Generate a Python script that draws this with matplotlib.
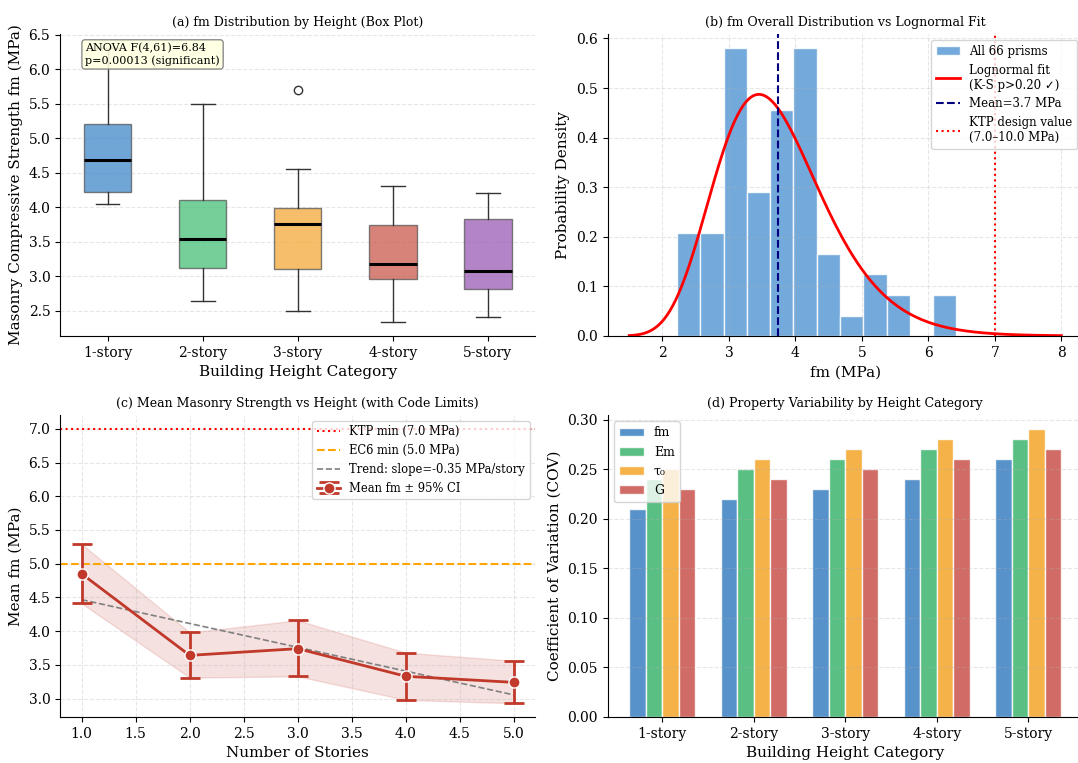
import numpy as np
import matplotlib
matplotlib.use("Agg")
import matplotlib.pyplot as plt

plt.rcParams['font.family'] = ['DejaVu Serif', 'DejaVu Sans']
plt.rcParams['axes.spines.top'] = False
plt.rcParams['axes.spines.right'] = False

# --- data ---
categories = ['1-story', '2-story', '3-story', '4-story', '5-story']

# (a) box plot stats per height category
box_med = [4.68, 3.54, 3.76, 3.18, 3.08]
box_q1 = [4.22, 3.11, 3.10, 2.95, 2.81]
box_q3 = [5.20, 4.10, 3.98, 3.74, 3.82]
box_lo = [4.05, 2.64, 2.49, 2.33, 2.41]
box_hi = [6.31, 5.50, 4.55, 4.30, 4.20]
box_fliers = [[], [], [5.70], [], []]
box_colors = ['#3f88c9', '#45bf76', '#f4a938', '#cb5a4d', '#9b5bb6']

# (b) histogram of all prisms (density) and lognormal fit
hist_edges = [2.22, 2.57, 2.92, 3.27, 3.62, 3.97, 4.32, 4.67, 5.02, 5.37, 5.72, 6.07, 6.42]
hist_density = [0.207, 0.207, 0.580, 0.290, 0.456, 0.580, 0.166, 0.041, 0.124, 0.083, 0.0, 0.083]
logn_mu = 1.292
logn_sigma = 0.231
fm_mean = 3.74

# (c) mean fm per story with 95% CI
stories = [1, 2, 3, 4, 5]
mean_fm = [4.85, 3.64, 3.74, 3.33, 3.24]
ci_low = [4.41, 3.31, 3.33, 2.98, 2.93]
ci_high = [5.29, 3.98, 4.16, 3.68, 3.56]

# (d) coefficient of variation by property
cov_fm = [0.21, 0.22, 0.23, 0.24, 0.26]
cov_em = [0.24, 0.25, 0.26, 0.27, 0.28]
cov_tau = [0.25, 0.26, 0.27, 0.28, 0.29]
cov_g = [0.23, 0.24, 0.25, 0.26, 0.27]

fig, axes = plt.subplots(2, 2, figsize=(10.78, 7.63), dpi=100)
fig.subplots_adjust(left=0.0557, right=1.0046, top=0.9554, bottom=0.0603,
                    wspace=0.152, hspace=0.262)
title_fs = 9
label_fs = 11

# (a) box plot
ax = axes[0, 0]
stats = []
for i in range(len(categories)):
    stats.append(dict(med=box_med[i], q1=box_q1[i], q3=box_q3[i],
                      whislo=box_lo[i], whishi=box_hi[i], fliers=box_fliers[i]))
bp = ax.bxp(stats, patch_artist=True, widths=0.5,
            medianprops=dict(color='black', linewidth=2.2),
            whiskerprops=dict(color='#333333'), capprops=dict(color='#333333'),
            boxprops=dict(edgecolor='#555555'),
            flierprops=dict(marker='o', markerfacecolor='none', markeredgecolor='#333333'))
for patch, c in zip(bp['boxes'], box_colors):
    patch.set_facecolor(c)
    patch.set_alpha(0.75)
ax.set_xticks(range(1, 6))
ax.set_xticklabels(categories)
ax.set_title('(a) fm Distribution by Height (Box Plot)', fontsize=title_fs)
ax.set_xlabel('Building Height Category', fontsize=label_fs)
ax.set_ylabel('Masonry Compressive Strength fm (MPa)', fontsize=label_fs)
ax.grid(axis='y', linestyle='--', alpha=0.3)
ax.text(0.053, 0.97, 'ANOVA F(4,61)=6.84\np=0.00013 (significant)', transform=ax.transAxes,
        fontsize=8, va='top', ha='left',
        bbox=dict(boxstyle='round,pad=0.3', facecolor='lightyellow', edgecolor='gray', alpha=0.9))

# (b) histogram vs lognormal fit
ax = axes[0, 1]
ax.hist(hist_edges[:-1], bins=hist_edges, weights=hist_density, color='#5B9BD5', alpha=0.85,
        edgecolor='white', linewidth=1, label='All 66 prisms')
xs = np.linspace(1.5, 8, 300)
pdf = np.exp(-(np.log(xs) - logn_mu) ** 2 / (2 * logn_sigma ** 2)) / (xs * logn_sigma * np.sqrt(2 * np.pi))
ax.plot(xs, pdf, color='red', linewidth=2, label='Lognormal fit\n(K-S p>0.20 \u2713)')
ax.axvline(fm_mean, color='navy', linestyle='--', linewidth=1.5, label=f'Mean={fm_mean:.1f} MPa')
ax.axvline(7.0, color='red', linestyle=':', linewidth=1.5, label='KTP design value\n(7.0\u201310.0 MPa)')
ax.set_title('(b) fm Overall Distribution vs Lognormal Fit', fontsize=title_fs)
ax.set_xlabel('fm (MPa)', fontsize=label_fs)
ax.set_ylabel('Probability Density', fontsize=label_fs)
ax.legend(fontsize=8.5, loc='upper right')
ax.grid(linestyle='--', alpha=0.3)

# (c) mean strength vs height
ax = axes[1, 0]
ax.axhline(7.0, color='red', linestyle=':', linewidth=1.5, label='KTP min (7.0 MPa)')
ax.axhline(5.0, color='orange', linestyle='--', linewidth=1.5, label='EC6 min (5.0 MPa)')
slope, intercept = np.polyfit(stories, mean_fm, 1)
xs_tr = np.array(stories, dtype=float)
ax.plot(xs_tr, slope * xs_tr + intercept, color='gray', linestyle='--', linewidth=1.2,
        label=f'Trend: slope={slope:.2f} MPa/story')
ax.fill_between(stories, ci_low, ci_high, color='#c0392b', alpha=0.15)
yerr = [np.array(mean_fm) - np.array(ci_low), np.array(ci_high) - np.array(mean_fm)]
ax.errorbar(stories, mean_fm, yerr=yerr, color='#c0392b', marker='o', markersize=8,
            markeredgecolor='white', linewidth=2, capsize=7, capthick=2,
            label='Mean fm \u00b1 95% CI')
ax.set_title('(c) Mean Masonry Strength vs Height (with Code Limits)', fontsize=title_fs)
ax.set_xlabel('Number of Stories', fontsize=label_fs)
ax.set_ylabel('Mean fm (MPa)', fontsize=label_fs)
ax.legend(fontsize=8.3, loc='upper right')
ax.grid(linestyle='--', alpha=0.3)

# (d) COV by category
ax = axes[1, 1]
x = np.arange(len(categories))
w = 0.18
ax.bar(x - 1.5 * w, cov_fm, w, color='#3a7fc1', alpha=0.85, edgecolor='white', label='fm')
ax.bar(x - 0.5 * w, cov_em, w, color='#3db46d', alpha=0.85, edgecolor='white', label='Em')
ax.bar(x + 0.5 * w, cov_tau, w, color='#f4a529', alpha=0.85, edgecolor='white', label='\u03c4\u2080')
ax.bar(x + 1.5 * w, cov_g, w, color='#c8524a', alpha=0.85, edgecolor='white', label='G')
ax.set_xticks(x)
ax.set_xticklabels(categories)
ax.set_title('(d) Property Variability by Height Category', fontsize=title_fs)
ax.set_xlabel('Building Height Category', fontsize=label_fs)
ax.set_ylabel('Coefficient of Variation (COV)', fontsize=label_fs)
ax.legend(fontsize=9, loc='upper left')
ax.grid(axis='y', linestyle='--', alpha=0.3)

for a in axes.flat:
    a.tick_params(labelsize=10)

fig.savefig('out.png', dpi=100)
